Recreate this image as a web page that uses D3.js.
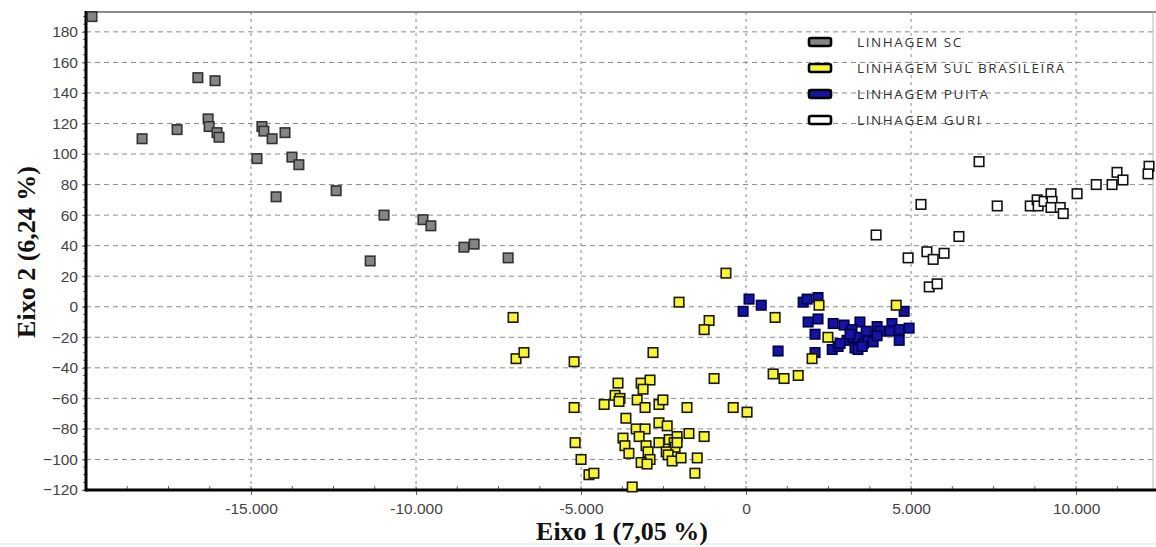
<!DOCTYPE html>
<html>
<head>
<meta charset="utf-8">
<script src="https://cdn.jsdelivr.net/npm/d3@7"></script>
<style>
body { margin: 0; background: #fff; }
</style>
</head>
<body>
<div id="chart"></div>
<script>
// eixo 1, eixo 2 for each lineage
var linhagemSC = [[-19820,190],[-18300,110],[-17240,116],[-16610,150],[-16090,148],[-16300,123],[-16270,118],
    [-16030,114],[-15970,111],[-14670,118],[-14610,115],[-14360,110],[-13970,114],[-14820,97],[-13760,98],
    [-13550,93],[-14240,72],[-12420,76],[-10970,60],[-11390,30],[-9790,57],[-9550,53],[-8550,39],[-8240,41],[-7210,32]];

var linhagemPuita = [[90,5],[-90,-3],[460,1],[970,-29],[1730,3],[1850,5],[2180,6],[2180,-8],[1880,-10],[2090,-18],
    [2090,-30],[2640,-11],[2970,-12],[3450,-10],[3210,-15],[2610,-28],[2790,-26],[3060,-22],[3240,-20],[3390,-20],
    [3550,-24],[3700,-21],[3850,-23],[3970,-13],[4060,-16],[4420,-11],[4360,-16],[4640,-15],[4940,-14],[4790,-3],
    [4640,-22],[3300,-27],[3150,-18],[3640,-16],[3970,-19],[3390,-28],[3520,-26],[2850,-24]];

var linhagemSul = [[-610,22],[-2030,3],[-7060,-7],[-1120,-9],[-1270,-15],[880,-7],[-6970,-34],[-6730,-30],[-5210,-36],
    [-2820,-30],[-970,-47],[820,-44],[1150,-47],[1580,-45],[-3880,-50],[-3180,-50],[-2910,-48],[-3120,-54],[-3970,-58],
    [-3820,-60],[-3850,-62],[-4300,-64],[-3300,-61],[-3060,-66],[-2640,-64],[-2520,-61],[-1790,-66],[-390,-66],[30,-69],
    [-5210,-66],[-3640,-73],[-3330,-80],[-3060,-80],[-2640,-76],[-2390,-78],[-3240,-85],[-3730,-86],[-3670,-91],
    [-3030,-91],[-2640,-89],[-2330,-87],[-2090,-85],[-2180,-89],[-2150,-92],[-1730,-83],[-1270,-85],[-3550,-96],
    [-2970,-95],[-2910,-100],[-3180,-102],[-3000,-103],[-2420,-95],[-2360,-97],[-2240,-101],[-1970,-99],[-1480,-99],
    [-5180,-89],[-5000,-100],[-4760,-110],[-4610,-109],[-1550,-109],[-3450,-118],[2210,1],[2480,-20],[2000,-34],
    [4550,1],[-2090,-89]];

var linhagemGuri = [[3940,47],[4910,32],[5300,67],[5480,36],[5670,31],[6000,35],[6450,46],[5550,13],[5790,15],
    [7060,95],[7610,66],[8610,66],[8820,70],[8850,66],[9030,69],[9240,74],[9270,69],[9240,65],[9520,65],[9610,61],
    [10030,74],[10610,80],[11090,80],[11240,88],[11420,83],[12210,92],[12180,87]];

var seriesNames = ["LINHAGEM SC", "LINHAGEM SUL BRASILEIRA", "LINHAGEM PUITA", "LINHAGEM GURI"];
var xTicks = [-15000, -10000, -5000, 0, 5000, 10000];
var yTicks = d3.range(-120, 181, 20);

var width = 1156, height = 547;

var svg = d3.select("#chart").append("svg")
    .attr("width", width)
    .attr("height", height);

var x = d3.scaleLinear().domain([-20000, 12330]).range([86, 1153]);
var y = d3.scaleLinear().domain([-120, 193]).range([490, 12]);

var br = d3.formatLocale({decimal: ",", thousands: ".", grouping: [3], currency: ["", ""], minus: "-"});
var fmt = br.format(",d");

//faint page edge at the bottom
svg.append("line").attr("x1", 0).attr("x2", width).attr("y1", 544).attr("y2", 544)
    .attr("stroke", "#e2e2e2").attr("stroke-width", 1);

//grid
svg.append("g").selectAll("line")
    .data(yTicks.filter(function(d) { return d > -120; }))
    .enter().append("line")
    .attr("x1", 86).attr("x2", width)
    .attr("y1", function(d) { return y(d); })
    .attr("y2", function(d) { return y(d); })
    .attr("stroke", "#8a8a8a").attr("stroke-width", 1).attr("stroke-dasharray", "5,4");

svg.append("g").selectAll("line")
    .data(xTicks)
    .enter().append("line")
    .attr("x1", function(d) { return x(d); })
    .attr("x2", function(d) { return x(d); })
    .attr("y1", 12).attr("y2", 490)
    .attr("stroke", "#8a8a8a").attr("stroke-width", 1).attr("stroke-dasharray", "3,4");

//frame
svg.append("line").attr("x1", 86).attr("x2", width).attr("y1", 12).attr("y2", 12)
    .attr("stroke", "#666").attr("stroke-width", 1.5);
svg.append("line").attr("x1", 1153).attr("x2", 1153).attr("y1", 12).attr("y2", 490)
    .attr("stroke", "#bbb").attr("stroke-width", 1);

//minor ticks
svg.append("g").selectAll("line")
    .data(d3.range(-20000, 12330, 1250))
    .enter().append("line")
    .attr("x1", function(d) { return x(d); })
    .attr("x2", function(d) { return x(d); })
    .attr("y1", 490).attr("y2", 486)
    .attr("stroke", "#666").attr("stroke-width", 1);

svg.append("g").selectAll("line")
    .data(d3.range(-120, 193, 5))
    .enter().append("line")
    .attr("x1", 86).attr("x2", 83)
    .attr("y1", function(d) { return y(d); })
    .attr("y2", function(d) { return y(d); })
    .attr("stroke", "#666").attr("stroke-width", 1);

//axes
var xAxis = svg.append("g")
    .attr("transform", "translate(0,490)")
    .call(d3.axisBottom(x).tickValues(xTicks).tickFormat(fmt).tickSize(5).tickPadding(8));

var yAxis = svg.append("g")
    .attr("transform", "translate(86,0)")
    .call(d3.axisLeft(y).tickValues(yTicks).tickSize(4).tickPadding(4));

[xAxis, yAxis].forEach(function(a) {
    a.select(".domain").remove();
    a.selectAll(".tick line").attr("stroke", "#666");
    a.selectAll("text")
        .attr("fill", "#444")
        .style("font-family", "'Liberation Sans', Arial, sans-serif")
        .style("font-size", "15.5px");
});

svg.append("line").attr("x1", 86).attr("x2", width).attr("y1", 490).attr("y2", 490)
    .attr("stroke", "#000").attr("stroke-width", 3);
svg.append("line").attr("x1", 86).attr("x2", 86).attr("y1", 11).attr("y2", 491.5)
    .attr("stroke", "#000").attr("stroke-width", 3);

//axis titles
svg.append("text")
    .attr("x", 622).attr("y", 540)
    .attr("text-anchor", "middle")
    .style("font-family", "'Liberation Serif', 'Times New Roman', serif")
    .style("font-weight", "bold").style("font-size", "26px")
    .attr("fill", "#111")
    .text("Eixo 1 (7,05 %)");

svg.append("text")
    .attr("transform", "translate(35,252)rotate(-90)")
    .attr("text-anchor", "middle")
    .style("font-family", "'Liberation Serif', 'Times New Roman', serif")
    .style("font-weight", "bold").style("font-size", "26px")
    .attr("fill", "#111")
    .text("Eixo 2 (6,24 %)");

//points
var styles = [
    {data: linhagemSC, fill: "#858585", stroke: "#333"},
    {data: linhagemPuita, fill: "#1414a0", stroke: "#00004a"},
    {data: linhagemSul, fill: "#f8f436", stroke: "#1a1a00"},
    {data: linhagemGuri, fill: "#fff", stroke: "#111"}
];

var s = 9.5;
styles.forEach(function(st) {
    svg.append("g").selectAll("rect")
        .data(st.data)
        .enter().append("rect")
        .attr("x", function(d) { return x(d[0]) - s / 2; })
        .attr("y", function(d) { return y(d[1]) - s / 2; })
        .attr("width", s).attr("height", s)
        .attr("fill", st.fill)
        .attr("stroke", st.stroke)
        .attr("stroke-width", 1.6);
});

//legend
var legendFills = ["#858585", "#f8f436", "#1414a0", "#fff"];
var legend = svg.append("g").selectAll("g")
    .data(seriesNames)
    .enter().append("g")
    .attr("transform", function(d, i) { return "translate(808," + (42 + i * 26) + ")"; });

legend.append("rect")
    .attr("x", 1).attr("y", -4).attr("width", 22).attr("height", 8)
    .attr("rx", 2)
    .attr("fill", function(d, i) { return legendFills[i]; })
    .attr("stroke", "#000").attr("stroke-width", 2.6);

legend.append("text")
    .attr("x", 49).attr("y", 0).attr("dy", "0.36em")
    .style("font-family", "'Open Sans', sans-serif")
    .style("font-size", "13.5px")
    .style("letter-spacing", "1.6px")
    .attr("fill", "#333")
    .text(function(d) { return d; });
</script>
</body>
</html>
